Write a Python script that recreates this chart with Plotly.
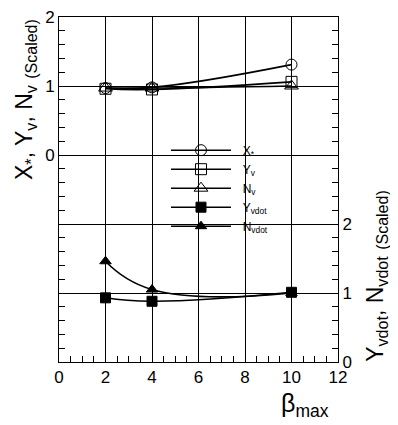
import plotly.graph_objects as go

beta_max = [2, 4, 10]
x_star = [0.97, 0.98, 1.31]
y_v = [0.96, 0.95, 1.06]
n_v = [0.97, 0.97, 1.00]
y_vdot = [0.93, 0.88, 1.01]
n_vdot = [1.46, 1.05, 1.00]

x_ticks = [0, 2, 4, 6, 8, 10, 12]
left_tickvals = [-3, -2, -1, 0, 1, 2]
left_ticktext = ["", "", "", "0", "1", "2"]
right_tickvals = [0, 1, 2, 3, 4, 5]
right_ticktext = ["0", "1", "2", "", "", ""]

FONT = "Liberation Sans, Arial, sans-serif"
PAD = "\u00a0\u00a0"

fig = go.Figure()

def add(name, xs, ys, symbol, yaxis, size):
    fig.add_trace(go.Scatter(
        x=xs, y=ys, name=PAD + name, yaxis=yaxis, mode="lines+markers",
        line=dict(color="black", width=1.6, shape="spline", smoothing=1.3),
        marker=dict(symbol=symbol, size=size, color="black",
                    line=dict(color="black", width=1)),
    ))

add("X<sub>*</sub>", beta_max, x_star, "circle-open", "y", 11)
add("Y<sub>v</sub>", beta_max, y_v, "square-open", "y", 11)
add("N<sub>v</sub>", beta_max, n_v, "triangle-up-open", "y", 12)
add("Y<sub>vdot</sub>", beta_max, y_vdot, "square", "y2", 10)
add("N<sub>vdot</sub>", beta_max, n_vdot, "triangle-up", "y2", 10)

# page body has an 8px default margin: figure is sized/offset to compensate
fig.update_layout(
    width=390, height=417,
    margin=dict(l=51, r=60, t=9, b=63, autoexpand=False),
    paper_bgcolor="white", plot_bgcolor="white",
    font=dict(family=FONT, size=16, color="black"),
    showlegend=True,
    legend=dict(x=0.3835, y=0.656, xanchor="left", yanchor="top",
                bgcolor="rgba(0,0,0,0)", borderwidth=0,
                font=dict(size=12, family=FONT), itemwidth=60,
                tracegroupgap=0),
    xaxis=dict(range=[0, 12], tickvals=x_ticks, ticks="inside", ticklen=6,
               tickcolor="black", showline=True, linecolor="black",
               linewidth=1, mirror=True, showgrid=True, gridcolor="black",
               gridwidth=1, zeroline=False, automargin=False,
               minor=dict(dtick=0.5, tick0=0, ticks="inside", ticklen=6,
                          tickcolor="black", showgrid=False),
               tickfont=dict(size=17)),
    yaxis=dict(range=[-3, 2], tickmode="array", tickvals=left_tickvals,
               ticktext=left_ticktext, ticks="inside", ticklen=6,
               tickcolor="black", showline=True, linecolor="black",
               linewidth=1, showgrid=True, gridcolor="black", gridwidth=1,
               zeroline=False, ticklabeloverflow="allow", automargin=False,
               minor=dict(dtick=0.2, tick0=0, ticks="inside", ticklen=6,
                          tickcolor="black", showgrid=False),
               tickfont=dict(size=17)),
    yaxis2=dict(range=[0, 5], overlaying="y", side="right",
                tickmode="array", tickvals=right_tickvals,
                ticktext=right_ticktext, ticks="inside", ticklen=6,
                tickcolor="black", showline=True, linecolor="black",
                linewidth=1, showgrid=False, zeroline=False,
                ticklabeloverflow="allow", automargin=False,
                minor=dict(dtick=0.2, tick0=0, ticks="inside", ticklen=6,
                           tickcolor="black", showgrid=False),
                tickfont=dict(size=17)),
    shapes=[dict(type="rect", xref="paper", yref="paper",
                 x0=0.362, x1=0.789, y0=0.362, y1=0.670,
                 fillcolor="white", line=dict(width=0), layer="between")],
    annotations=[
        dict(xref="paper", yref="paper", x=-0.12, y=0.761, textangle=-90,
             showarrow=False, xanchor="center", yanchor="middle",
             font=dict(size=23, family=FONT),
             text="X<sub>*</sub>, Y<sub>v</sub>, N<sub>v</sub> "
                  "<sub><span style='font-size:16px'>(Scaled)</span></sub>"),
        dict(xref="paper", yref="paper", x=1.14, y=0.25, textangle=-90,
             showarrow=False, xanchor="center", yanchor="middle",
             font=dict(size=23, family=FONT),
             text="Y<sub>vdot</sub>, N<sub>vdot</sub> "
                  "<sub><span style='font-size:16px'>(Scaled)</span></sub>"),
        dict(xref="paper", yref="paper", x=0.88, y=-0.125,
             showarrow=False, xanchor="center", yanchor="middle",
             font=dict(size=25, family=FONT),
             text="β<sub>max</sub>"),
    ],
)

fig.write_html("out.html")
